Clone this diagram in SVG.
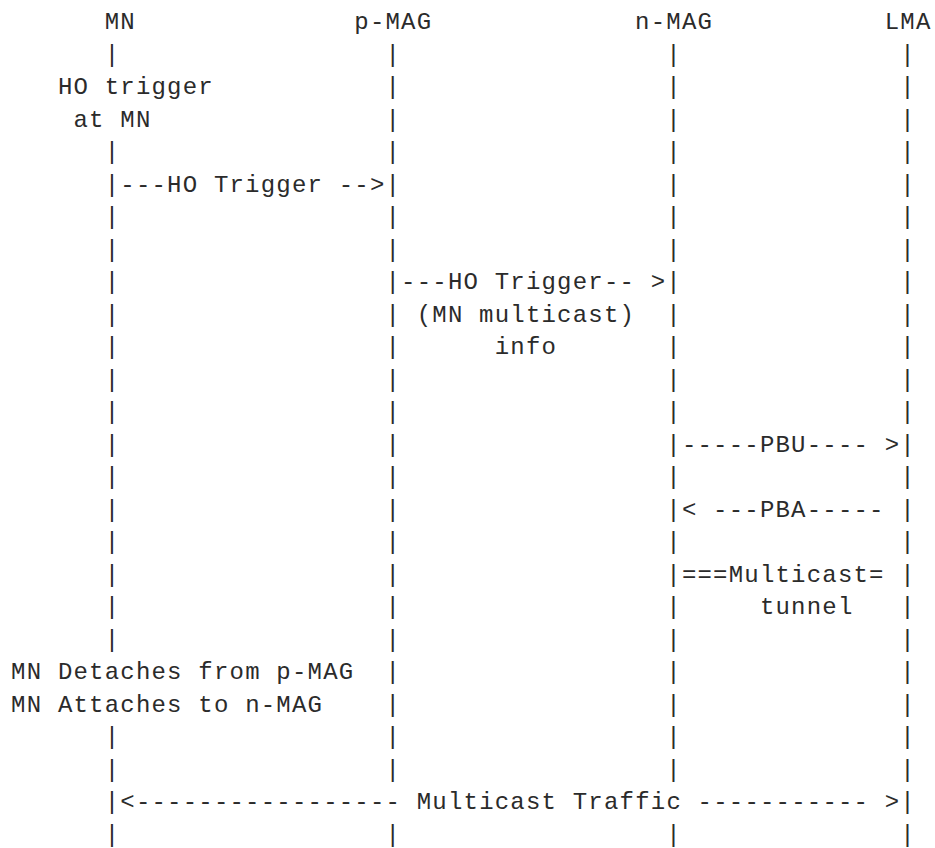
<svg xmlns="http://www.w3.org/2000/svg" width="935" height="848" viewBox="0 0 935 848">
<style>
.t{font-family:"Liberation Mono","DejaVu Sans Mono",monospace;font-size:24px;letter-spacing:1.2px;fill:#2b2b2b;white-space:pre}
</style>
<rect width="935" height="848" fill="#ffffff"/>
<g id="node-MN">
<text class="t" x="104.7" y="29">MN</text>
<text class="t"><tspan x="104.7" y="61.5">|</tspan><tspan x="104.7" y="159">|</tspan><tspan x="104.7" y="191.5">|</tspan><tspan x="104.7" y="224">|</tspan><tspan x="104.7" y="256.5">|</tspan><tspan x="104.7" y="289">|</tspan><tspan x="104.7" y="321.5">|</tspan><tspan x="104.7" y="354">|</tspan><tspan x="104.7" y="386.5">|</tspan><tspan x="104.7" y="419">|</tspan><tspan x="104.7" y="451.5">|</tspan><tspan x="104.7" y="484">|</tspan><tspan x="104.7" y="516.5">|</tspan><tspan x="104.7" y="549">|</tspan><tspan x="104.7" y="581.5">|</tspan><tspan x="104.7" y="614">|</tspan><tspan x="104.7" y="646.5">|</tspan><tspan x="104.7" y="744">|</tspan><tspan x="104.7" y="776.5">|</tspan><tspan x="104.7" y="809">|</tspan><tspan x="104.7" y="841.5">|</tspan></text>
</g>
<g id="node-pMAG">
<text class="t" x="354.3" y="29">p-MAG</text>
<text class="t"><tspan x="385.5" y="61.5">|</tspan><tspan x="385.5" y="94">|</tspan><tspan x="385.5" y="126.5">|</tspan><tspan x="385.5" y="159">|</tspan><tspan x="385.5" y="191.5">|</tspan><tspan x="385.5" y="224">|</tspan><tspan x="385.5" y="256.5">|</tspan><tspan x="385.5" y="289">|</tspan><tspan x="385.5" y="321.5">|</tspan><tspan x="385.5" y="354">|</tspan><tspan x="385.5" y="386.5">|</tspan><tspan x="385.5" y="419">|</tspan><tspan x="385.5" y="451.5">|</tspan><tspan x="385.5" y="484">|</tspan><tspan x="385.5" y="516.5">|</tspan><tspan x="385.5" y="549">|</tspan><tspan x="385.5" y="581.5">|</tspan><tspan x="385.5" y="614">|</tspan><tspan x="385.5" y="646.5">|</tspan><tspan x="385.5" y="679">|</tspan><tspan x="385.5" y="711.5">|</tspan><tspan x="385.5" y="744">|</tspan><tspan x="385.5" y="776.5">|</tspan><tspan x="385.5" y="841.5">|</tspan></text>
</g>
<g id="node-nMAG">
<text class="t" x="635.1" y="29">n-MAG</text>
<text class="t"><tspan x="666.3" y="61.5">|</tspan><tspan x="666.3" y="94">|</tspan><tspan x="666.3" y="126.5">|</tspan><tspan x="666.3" y="159">|</tspan><tspan x="666.3" y="191.5">|</tspan><tspan x="666.3" y="224">|</tspan><tspan x="666.3" y="256.5">|</tspan><tspan x="666.3" y="289">|</tspan><tspan x="666.3" y="321.5">|</tspan><tspan x="666.3" y="354">|</tspan><tspan x="666.3" y="386.5">|</tspan><tspan x="666.3" y="419">|</tspan><tspan x="666.3" y="451.5">|</tspan><tspan x="666.3" y="484">|</tspan><tspan x="666.3" y="516.5">|</tspan><tspan x="666.3" y="549">|</tspan><tspan x="666.3" y="581.5">|</tspan><tspan x="666.3" y="614">|</tspan><tspan x="666.3" y="646.5">|</tspan><tspan x="666.3" y="679">|</tspan><tspan x="666.3" y="711.5">|</tspan><tspan x="666.3" y="744">|</tspan><tspan x="666.3" y="776.5">|</tspan><tspan x="666.3" y="841.5">|</tspan></text>
</g>
<g id="node-LMA">
<text class="t" x="884.7" y="29">LMA</text>
<text class="t"><tspan x="900.3" y="61.5">|</tspan><tspan x="900.3" y="94">|</tspan><tspan x="900.3" y="126.5">|</tspan><tspan x="900.3" y="159">|</tspan><tspan x="900.3" y="191.5">|</tspan><tspan x="900.3" y="224">|</tspan><tspan x="900.3" y="256.5">|</tspan><tspan x="900.3" y="289">|</tspan><tspan x="900.3" y="321.5">|</tspan><tspan x="900.3" y="354">|</tspan><tspan x="900.3" y="386.5">|</tspan><tspan x="900.3" y="419">|</tspan><tspan x="900.3" y="451.5">|</tspan><tspan x="900.3" y="484">|</tspan><tspan x="900.3" y="516.5">|</tspan><tspan x="900.3" y="549">|</tspan><tspan x="900.3" y="581.5">|</tspan><tspan x="900.3" y="614">|</tspan><tspan x="900.3" y="646.5">|</tspan><tspan x="900.3" y="679">|</tspan><tspan x="900.3" y="711.5">|</tspan><tspan x="900.3" y="744">|</tspan><tspan x="900.3" y="776.5">|</tspan><tspan x="900.3" y="809">|</tspan><tspan x="900.3" y="841.5">|</tspan></text>
</g>
<g id="note-ho-trigger">
<text class="t" x="57.9" y="94">HO trigger</text>
<text class="t" x="73.5" y="126.5">at MN</text>
</g>
<g id="note-detach">
<text class="t" x="11.1" y="679">MN Detaches from p-MAG</text>
<text class="t" x="11.1" y="711.5">MN Attaches to n-MAG</text>
</g>
<g id="connectors">
<text class="t" x="120.3" y="191.5">---HO Trigger --&gt;</text>
<text class="t" x="401.1" y="289">---HO Trigger-- &gt;</text>
<text class="t" x="416.7" y="321.5">(MN multicast)</text>
<text class="t" x="494.7" y="354">info</text>
<text class="t" x="681.9" y="451.5">-----PBU---- &gt;</text>
<text class="t" x="681.9" y="516.5">&lt; ---PBA-----</text>
<text class="t" x="681.9" y="581.5">===Multicast=</text>
<text class="t" x="759.9" y="614">tunnel</text>
<text class="t" x="120.3" y="809">&lt;----------------- Multicast Traffic ----------- &gt;</text>
</g>
</svg>
